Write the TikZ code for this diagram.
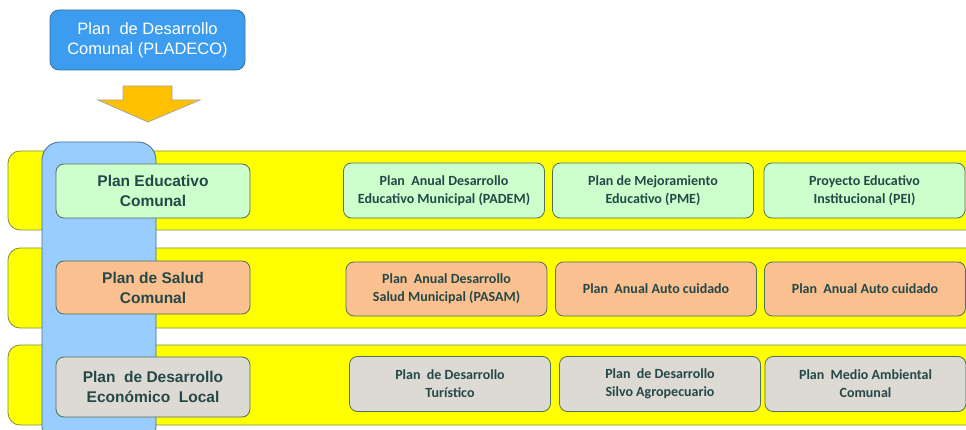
\documentclass[tikz,border=0pt]{standalone}
\usepackage{fontspec}
\setmainfont{Liberation Sans}
\newfontfamily\calib{Carlito}

\definecolor{bandyellow}{HTML}{FFFF00}
\definecolor{bandline}{HTML}{7A8F4A}
\definecolor{barblue}{HTML}{99CCFF}
\definecolor{topblue}{HTML}{3C9CF0}
\definecolor{topline}{HTML}{3F6F8F}
\definecolor{boxline}{HTML}{4F6F5F}
\definecolor{edufill}{HTML}{CCFFCC}
\definecolor{salfill}{HTML}{FAC090}
\definecolor{ecofill}{HTML}{DDD9D3}
\definecolor{txtteal}{HTML}{244848}
\definecolor{arrowgold}{HTML}{FFC000}

\begin{document}
\begin{tikzpicture}[x=1pt,y=-1pt]
			\useasboundingbox (0,0) rectangle (966,430);
			\clip (0,0) rectangle (966,430);

			% franjas amarillas
			\begin{scope}[every path/.style={fill=bandyellow,draw=bandline,thick,rounded corners=12pt}]
			    \path (8,151) rectangle (980,230);
			    \path (8,248) rectangle (980,328);
			    \path (8,345) rectangle (980,425);
			\end{scope}
			\path[fill=barblue,draw=topline,thick,rounded corners=18pt] (42,142) rectangle (156,445);

			\node[fill=topblue,draw=topline,thick,rounded corners=9pt,minimum width=195pt,minimum height=60pt,
			      align=center,text=white,font=\fontsize{16.5}{20}\selectfont]  (P) at (147.5,40) {Plan\ \ de Desarrollo\\Comunal (PLADECO)};
			\path[fill=arrowgold,draw=gray!70,thick] (123,86) -- (172,86) -- (172,100) -- (200,100) -- (148,122) -- (98,100) -- (123,100) -- cycle;

			% planes comunales
			\begin{scope}[every node/.style={draw=boxline,thick,rounded corners=8pt,minimum width=194pt,align=center,
			              text=txtteal,font=\bfseries\fontsize{15.5}{20}\selectfont}]
			    \node[fill=edufill,minimum height=54pt]  (E) at (153,191) {Plan Educativo\\Comunal};
			    \node[fill=salfill,minimum height=53pt]  (S) at (153,287.5) {Plan de Salud\\Comunal};
			    \node[fill=ecofill,minimum height=60pt]  (L) at (153,387) {Plan\ \ de Desarrollo\\Económico\ \ Local};
			\end{scope}

			% planes por area
			\begin{scope}[every node/.style={draw=boxline,thick,rounded corners=8pt,minimum width=201pt,align=center,
			              text=txtteal,font=\calib\bfseries\fontsize{14}{18}\selectfont}]
			    \node[fill=edufill,minimum height=55pt]  (E1) at (444,190.5) {Plan\ \ Anual Desarrollo\\Educativo Municipal (PADEM)};
			    \node[fill=edufill,minimum height=55pt]  (E2) at (653,190.5) {Plan de Mejoramiento\\Educativo (PME)};
			    \node[fill=edufill,minimum height=55pt]  (E3) at (864.5,190.5) {Proyecto Educativo\\Institucional (PEI)};
			    \node[fill=salfill,minimum height=54pt]  (S1) at (446.5,289) {Plan\ \ Anual Desarrollo\\Salud Municipal (PASAM)};
			    \node[fill=salfill,minimum height=54pt]  (S2) at (656,289) {Plan\ \ Anual Auto cuidado};
			    \node[fill=salfill,minimum height=54pt]  (S3) at (865,289) {Plan\ \ Anual Auto cuidado};
			    \node[fill=ecofill,minimum height=55pt]  (L1) at (450,384) {Plan\ \ de Desarrollo\\Turístico};
			    \node[fill=ecofill,minimum height=55pt]  (L2) at (660,384) {Plan\ \ de Desarrollo\\Silvo Agropecuario};
			    \node[fill=ecofill,minimum height=55pt]  (L3) at (865.5,384) {Plan\ \ Medio Ambiental\\Comunal};
			\end{scope}
\end{tikzpicture}
\end{document}
